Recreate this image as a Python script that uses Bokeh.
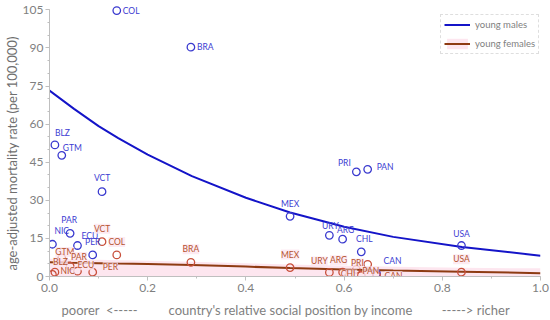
from bokeh.plotting import figure
from bokeh.models import (ColumnDataSource, Legend, LegendItem, LinearAxis, FixedTicker,
                          CustomJSTickFormatter, SingleIntervalTicker,
                          NumeralTickFormatter, Range1d)
from bokeh.core.properties import value
from bokeh.embed import file_html
from bokeh.resources import INLINE

# ---------------- data ----------------
countries = ["COL", "BRA", "BLZ", "GTM", "VCT", "PAR", "NIC", "ECU", "PER",
             "MEX", "URY", "ARG", "CHL", "PRI", "PAN", "USA", "CAN"]
income_position = [0.137, 0.288, 0.011, 0.025, 0.107, 0.042, 0.006, 0.057, 0.088,
                   0.490, 0.570, 0.597, 0.635, 0.625, 0.648, 0.839, 0.666]
young_males = [104.7, 90.3, 51.8, 47.7, 33.4, 17.0, 12.7, 12.2, 8.5,
               23.7, 16.2, 14.7, 9.7, 41.2, 42.2, 12.2, 1.2]
young_females = [8.5, 5.6, 1.7, 7.3, 13.7, 4.1, 0.8, 2.1, 1.7,
                 3.5, 1.6, 1.7, 0.4, 2.8, 4.8, 1.7, 0.5]

trend_x = [0.0, 0.05, 0.10, 0.14, 0.20, 0.29, 0.40, 0.49, 0.60, 0.70, 0.84, 1.0]
males_trend = [73.2, 66.0, 59.2, 54.5, 48.0, 39.5, 31.0, 25.2, 19.6, 15.6, 11.6, 8.2]
females_trend = [5.6, 5.45, 5.25, 5.1, 4.9, 4.5, 3.9, 3.3, 2.8, 2.4, 1.9, 1.3]
females_band = [7.0, 6.8, 6.6, 6.4, 6.2, 5.8, 5.2, 4.7, 4.2, 3.8, 3.4, 3.2]

x_axis_title = "country's relative social position by income"
y_axis_title = "age-adjusted mortality rate (per 100,000)"
bottom_texts = ["poorer\u00a0\u00a0<-----", x_axis_title, "----->\u00a0richer"]
bottom_text_pos = [0.102, 0.491, 0.868]
series_names = ["young males", "young females"]

# ---------------- label placement (style) ----------------
male_align = ["left", "left", "left", "left", "center", "center", "left", "left", "center",
              "center", "center", "center", "center", "center", "left", "center", "left"]
male_dx = [6, 6, 0, 1, 0, -1, 2, 4, 0, 0, 1, 3, 3, -12, 9, 0, 7]
male_dy = [0, 0, -12, -7, -14, -13, -13, -10, -13, -12, -9, -9, -13, -9, -2, -12, -12]

female_align = ["center", "center", "left", "center", "center", "left", "left", "left", "left",
                "center", "center", "center", "right", "center", "center", "center", "left"]
female_dx = [0, 0, -2, 3, 0, 1, 8, 0, 10, 0, -10, -4, -4, 1, 3, 0, 8]
female_dy = [-13, -13, -10, -6, -13, -9, -3, -6, -5, -13, -11, -12, -1, -6, 7, -13, 1]

FONT = "Lato"
GRAY = "#7f7f7f"
TITLE_GRAY = "#6f6f6f"
BLUE_PT = "#3a3acf"
BLUE_TXT = "#3c3cd2"
BLUE_LINE = "#1414c8"
RED_PT = "#c8503c"
RED_TXT = "#b5532f"
BROWN_LINE = "#8e3b12"

males_src = ColumnDataSource(dict(x=income_position, y=young_males, label=countries,
                                  align=male_align, dx=male_dx, dy=male_dy))
females_src = ColumnDataSource(dict(x=income_position, y=young_females, label=countries,
                                    align=female_align, dx=female_dx, dy=female_dy))
trend_src = ColumnDataSource(dict(x=trend_x, m=males_trend, f=females_trend, band=females_band))

p = figure(width=550, height=320, x_range=Range1d(0, 1.0), y_range=Range1d(0, 107.5),
           output_backend="svg", toolbar_location=None,
           min_border_left=49, min_border_right=10, min_border_top=3, min_border_bottom=30)
p.grid.visible = False
p.outline_line_color = None
p.background_fill_color = "white"

# axes
p.xaxis.ticker = SingleIntervalTicker(interval=0.2, num_minor_ticks=2)
p.xaxis.formatter = NumeralTickFormatter(format="0.0")
p.yaxis.ticker = SingleIntervalTicker(interval=15, num_minor_ticks=3)
p.yaxis.bounds = (0, 105)
for ax in (p.xaxis, p.yaxis):
    ax.axis_line_color = "#bfbfbf"
    ax.major_tick_line_color = "#bfbfbf"
    ax.minor_tick_line_color = "#bfbfbf"
    ax.major_tick_out = 4
    ax.major_tick_in = 0
    ax.minor_tick_out = 2
    ax.minor_tick_in = 0
    ax.major_label_text_font = FONT
    ax.major_label_text_font_size = "12px"
    ax.major_label_text_color = GRAY
p.xaxis.major_label_standoff = 3
p.yaxis.major_label_standoff = 2
p.yaxis.axis_label = y_axis_title + "\u00a0" * 8
p.yaxis.axis_label_text_font = FONT
p.yaxis.axis_label_text_font_style = "normal"
p.yaxis.axis_label_text_font_size = "13px"
p.yaxis.axis_label_text_color = TITLE_GRAY
p.yaxis.axis_label_standoff = 0

# second axis below carrying the x title and the poorer/richer hints on one row
title_axis = LinearAxis(ticker=FixedTicker(ticks=bottom_text_pos, minor_ticks=[]),
                        formatter=CustomJSTickFormatter(args=dict(labels=bottom_texts),
                                                        code="return labels[index]"))
title_axis.axis_line_color = None
title_axis.major_tick_line_color = None
title_axis.minor_tick_line_color = None
title_axis.major_tick_out = 0
title_axis.major_label_standoff = 7
title_axis.major_label_text_font = FONT
title_axis.major_label_text_font_size = "13px"
title_axis.major_label_text_color = GRAY
p.add_layout(title_axis, "below")

# band and trend lines
band = p.varea(x="x", y1=0, y2="band", source=trend_src, fill_color="#fde6ef", fill_alpha=1)
mline = p.line(x="x", y="m", source=trend_src, line_color=BLUE_LINE, line_width=2)
fline = p.line(x="x", y="f", source=trend_src, line_color=BROWN_LINE, line_width=2)

# points
p.scatter(x="x", y="y", source=males_src, marker="circle", size=7.5,
          fill_color=None, line_color=BLUE_PT, line_width=1.3)
p.scatter(x="x", y="y", source=females_src, marker="circle", size=7.5,
          fill_color=None, line_color=RED_PT, line_width=1.3)

# point labels
p.text(x="x", y="y", text="label", source=males_src, x_offset="dx", y_offset="dy",
       text_align="align", text_baseline="middle", text_font=value(FONT),
       text_font_size=value("8.5px"), text_color=BLUE_TXT)
p.text(x="x", y="y", text="label", source=females_src, x_offset="dx", y_offset="dy",
       text_align="align", text_baseline="middle", text_font=value(FONT),
       text_font_size=value("8.5px"), text_color=RED_TXT,
       background_fill_color="#fde6ef", background_fill_alpha=0.8)

legend = Legend(items=[LegendItem(label=series_names[0], renderers=[mline]),
                       LegendItem(label=series_names[1], renderers=[band, fline])],
                location=(391, 222), margin=0, padding=3, spacing=6,
                glyph_width=26, glyph_height=13, label_standoff=5,
                label_text_font=FONT, label_text_font_size="9.5px", label_text_color=GRAY,
                border_line_color="#bfbfbf", border_line_dash="dotted",
                background_fill_color="white", background_fill_alpha=1)
p.add_layout(legend)

open("out.html", "w").write(file_html(p, INLINE))
